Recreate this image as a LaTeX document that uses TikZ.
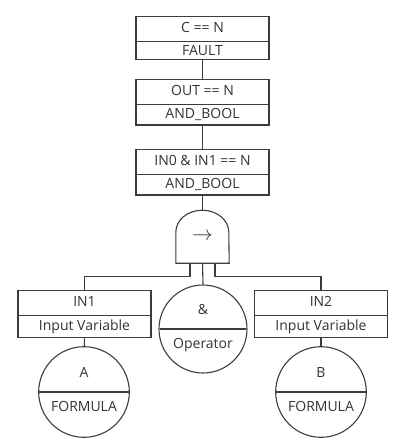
\documentclass[tikz,border=0pt]{standalone}
\usepackage{fontspec}
\setmainfont{Open Sans}
\usepackage{tikz}
\usetikzlibrary{positioning,shapes.multipart,calc}
\definecolor{lineclr}{HTML}{3C3C3C}
\definecolor{txtclr}{HTML}{333333}

\begin{document}
\begin{tikzpicture}[
      x=1pt, y=-1pt,
      node distance=0pt,
      every node/.style={font=\fontsize{14}{16}\selectfont, text=txtclr},
      evbox/.style={rectangle split, rectangle split parts=2, draw=lineclr,
                    line width=1.1pt, minimum width=133pt, text height=12.5pt,
                    text depth=4.5pt, inner ysep=3.6pt, align=center},
      evcirc/.style={circle split, draw=lineclr, line width=1.1pt,
                     minimum size=88pt, inner xsep=-4pt, inner ysep=9pt,
                     text height=11.5pt, text depth=5pt},
      wire/.style={draw=lineclr, line width=1.1pt},
    ]
    \useasboundingbox (0,0) rectangle (395,440);

    % Chain of event boxes down to the gate
    \node[evbox] (top) at (202.5,38) {C == N \nodepart{two} FAULT};
    \node[evbox] (out) at (202.5,102) {OUT == N \nodepart{two} AND\_BOOL};
    \node[evbox] (and) at (202.5,172) {IN0 \& IN1 == N \nodepart{two} AND\_BOOL};

    % Gate body (flat bottom, rounded top)
    \node[minimum width=53pt, minimum height=53pt] (gate) at (202.5,236.5) {};
    \draw[wire] (gate.south west) -- ++(0,-31) arc[start angle=180, end angle=0,
      x radius=26.5pt, y radius=22pt] -- (gate.south east) -- cycle;
    \node[font=\fontsize{22}{22}\selectfont] at ($(gate.center)+(0,0.5)$) (arr) {$\rightarrow$};

    % Inputs
    \node[evbox] (in1) at (84.5,314) {IN1 \nodepart{two} Input Variable};
    \node[evbox] (in2) at (321,314) {IN2 \nodepart{two} Input Variable};
    \node[evcirc] (op) at (203,329) {\& \nodepart{lower} Operator};
    \node[evcirc] (fa) at (84,392) {A \nodepart{lower} FORMULA};
    \node[evcirc] (fb) at (321,392) {B \nodepart{lower} FORMULA};

    % Connectors
    \coordinate (legl) at ([xshift=-12.5pt]gate.south);
    \coordinate (legr) at ([xshift=12.5pt]gate.south);
    \draw[wire] (top) -- (out);
    \draw[wire] (out) -- (and);
    \draw[wire] (and) -- (gate.north);
    \draw[wire] (legl) -- ++(0,13) -| (in1.north);
    \draw[wire] (legr) -- ++(0,13) -| (in2.north);
    \draw[wire] (gate.south) -- (op.north);
    \draw[wire] (in1) -- (fa);
    \draw[wire] (in2) -- (fb);
  \end{tikzpicture}
\end{document}
